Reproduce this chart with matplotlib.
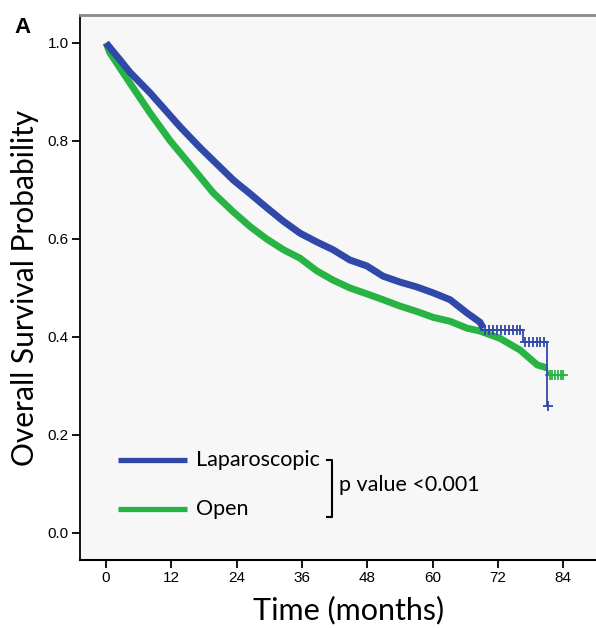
import matplotlib
matplotlib.use("Agg")
import matplotlib.pyplot as plt

# ---- data ----
groups = ["Laparoscopic", "Open"]
colors = ["#3049a8", "#27b444"]

lap_t = [0, 2.6, 4.4, 8.1, 13.6, 17.3, 23.4, 26.5, 29.5, 32.6, 35.6, 38.7,
         41.7, 44.8, 47.9, 50.9, 54.0, 57.1, 60.1, 63.2, 66.3, 68.7, 69.3]
lap_s = [1.0, 0.965, 0.94, 0.898, 0.829, 0.786, 0.72, 0.692, 0.664, 0.636, 0.612,
         0.594, 0.578, 0.557, 0.545, 0.524, 0.512, 0.502, 0.49, 0.476, 0.449, 0.43, 0.418]
lap_tail_t = [69.3, 76.6, 81.0, 81.2]
lap_tail_s = [0.414, 0.39, 0.26, 0.26]
lap_cens_t = [69.6, 70.3, 71.0, 71.8, 72.5, 73.2, 74.0, 74.7, 75.4, 76.1,
              77.0, 77.7, 78.4, 79.1, 79.8, 80.5, 81.2]
lap_cens_s = [0.414] * 10 + [0.39] * 6 + [0.26]

open_t = [0, 0.7, 4.4, 8.1, 11.8, 15.4, 19.7, 23.4, 26.5, 29.5, 32.6, 35.6, 38.7,
          41.7, 44.8, 47.9, 50.9, 54.0, 57.1, 60.1, 63.2, 66.3, 68.7, 72.4, 76.1, 79.2, 81.0]
open_s = [1.0, 0.98, 0.918, 0.857, 0.80, 0.752, 0.694, 0.655, 0.625, 0.60, 0.578, 0.561,
          0.535, 0.516, 0.50, 0.488, 0.476, 0.463, 0.452, 0.44, 0.432, 0.418, 0.412,
          0.397, 0.373, 0.343, 0.337]
open_tail_t = [81.0, 81.3, 84.3]
open_tail_s = [0.337, 0.322, 0.322]
open_cens_t = [81.5, 82.0, 82.5, 83.0, 83.5, 84.0]
open_cens_s = [0.322] * 6

xticks = [0, 12, 24, 36, 48, 60, 72, 84]
yticks = [0.0, 0.2, 0.4, 0.6, 0.8, 1.0]
p_text = "p value <0.001"

# ---- figure ----
fig = plt.figure(figsize=(5.96, 6.28), dpi=100)
ax = fig.add_axes([80/596, 1-560/628, 516/596, 545/628])
ax.set_facecolor("#f7f7f7")

ax.plot(lap_t, lap_s, color=colors[0], lw=5, solid_capstyle="butt", zorder=3)
ax.plot(lap_tail_t, lap_tail_s, color=colors[0], lw=1.3, drawstyle="steps-post", zorder=3)
ax.plot(lap_cens_t, lap_cens_s, ls="none", marker="+", ms=7, mew=1.3, color=colors[0], zorder=3)

ax.plot(open_t, open_s, color=colors[1], lw=5, solid_capstyle="butt", zorder=2)
ax.plot(open_tail_t, open_tail_s, color=colors[1], lw=1.3, zorder=2)
ax.plot(open_cens_t, open_cens_s, ls="none", marker="+", ms=7, mew=1.3, color=colors[1], zorder=2)

ax.set_xlim(-4.78, 90)
ax.set_ylim(-0.0551, 1.057)
ax.set_xticks(xticks)
ax.set_xticklabels([str(v) for v in xticks])
ax.set_yticks(yticks)
ax.set_yticklabels([f"{v:.1f}" for v in yticks])
ax.tick_params(axis="both", direction="out", length=6, width=1.3, labelsize=11,
               colors="black", pad=2)
for lab in ax.get_xticklabels() + ax.get_yticklabels():
    lab.set_family("Liberation Sans")

ax.spines["right"].set_visible(False)
ax.spines["top"].set_color("#8a8a8a")
ax.spines["top"].set_linewidth(2)
ax.spines["left"].set_linewidth(1.3)
ax.spines["bottom"].set_linewidth(1.5)

ax.set_xlabel("Time (months)", fontsize=22, family="Lato")
ax.xaxis.set_label_coords(0.521, -0.065)
ax.set_ylabel("Overall Survival Probability", fontsize=21.5, family="Lato", labelpad=6)

# legend (manual, in axes fraction)
leg_y = [0.1835, 0.0936]
for g, c, yy in zip(groups, colors, leg_y):
    ax.plot([0.0736, 0.2074], [yy, yy], color=c, lw=3.8, transform=ax.transAxes,
            solid_capstyle="butt", clip_on=False)
    ax.text(0.2248, yy, g, transform=ax.transAxes, fontsize=15.5, family="Lato",
            va="center", ha="left")

# bracket and p value
bx, btl, byt, byb = 0.488, 0.4787, 0.1835, 0.0789
ax.plot([btl, bx, bx, btl], [byt, byt, byb, byb], color="black", lw=1.5,
        transform=ax.transAxes, clip_on=False)
ax.text(0.502, 0.1376, p_text, transform=ax.transAxes, fontsize=15.5, family="Lato",
        va="center", ha="left")

fig.text(14/596, 1-33/628, "A", fontsize=16, fontweight="bold",
         family="Liberation Sans", va="baseline", ha="left")

fig.savefig("out.png", dpi=100)
